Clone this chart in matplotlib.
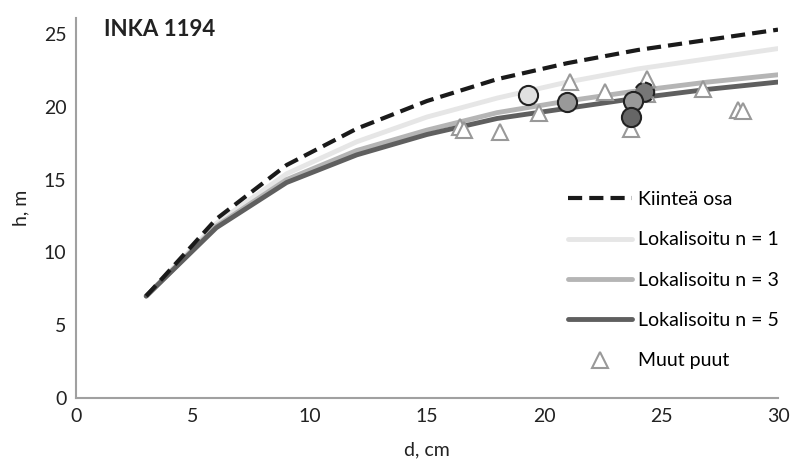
import numpy as np
import matplotlib.pyplot as plt

plt.rcParams['font.family'] = ['Lato', 'DejaVu Sans']

# model curves (d, cm -> h, m)
d_curve = [3, 6, 9, 12, 15, 18, 21, 24, 27, 30]
h_fixed = [7.0, 12.3, 16.0, 18.5, 20.4, 21.9, 23.0, 23.9, 24.6, 25.3]
h_loc1 = [7.0, 12.0, 15.4, 17.6, 19.3, 20.6, 21.7, 22.6, 23.3, 24.0]
h_loc3 = [7.0, 11.8, 15.0, 17.0, 18.4, 19.6, 20.4, 21.1, 21.7, 22.2]
h_loc5 = [7.0, 11.7, 14.8, 16.7, 18.1, 19.2, 19.9, 20.6, 21.2, 21.7]

# other trees
d_other = [16.4, 16.6, 18.1, 19.8, 21.1, 22.6, 23.7, 24.4, 24.4, 26.8, 28.3, 28.5]
h_other = [18.6, 18.4, 18.3, 19.6, 21.7, 21.0, 18.5, 21.9, 20.9, 21.2, 19.8, 19.7]

# sample trees used for localisation
d_samp = [24.3, 19.3, 21.0, 23.8, 23.7]
h_samp = [21.0, 20.8, 20.3, 20.4, 19.3]
c_samp = ['#777777', '#e0e0e0', '#999999', '#999999', '#666666']
ls_samp = ['--', '-', '-', '-', '-']

fig = plt.figure(figsize=(7.91, 4.65), dpi=100)
ax = fig.add_axes([76 / 791, 1 - 398 / 465, 702 / 791, 380 / 465])

ax.plot(d_curve, h_loc1, color='#e6e6e6', lw=3.5, label='Lokalisoitu n = 1', zorder=2,
        solid_capstyle='round')
ax.plot(d_curve, h_loc3, color='#b5b5b5', lw=3.5, label='Lokalisoitu n = 3', zorder=2,
        solid_capstyle='round')
ax.plot(d_curve, h_loc5, color='#5f5f5f', lw=3.5, label='Lokalisoitu n = 5', zorder=2,
        solid_capstyle='round')
ax.plot(d_curve, h_fixed, color='#1a1a1a', lw=3, ls=(0, (3.4, 1.7)), label='Kiinteä osa',
        zorder=3)
ax.plot(d_other, h_other, ls='none', marker='^', ms=11, mfc='white', mec='#999999',
        mew=1.5, label='Muut puut', zorder=4)

for d, h, c, ls in zip(d_samp, h_samp, c_samp, ls_samp):
    ax.scatter(d, h, s=190, color=c, edgecolors='#222222', linewidths=1.5,
               linestyle=ls, zorder=5)

ax.set_xlim(0, 30)
ax.set_ylim(0, 26.1)
ax.set_xticks(range(0, 31, 5))
ax.set_yticks(range(0, 26, 5))
ax.tick_params(length=0, labelsize=14, colors='#222222', pad=7)
for s in ['top', 'right']:
    ax.spines[s].set_visible(False)
for s in ['left', 'bottom']:
    ax.spines[s].set_color('#a0a0a0')
    ax.spines[s].set_linewidth(1.5)

ax.set_xlabel('d, cm', fontsize=14, color='#222222', labelpad=12)
ax.set_ylabel('h, m', fontsize=14, color='#222222', labelpad=10)
ax.text(0.04, 0.97, 'INKA 1194', transform=ax.transAxes, fontsize=16,
        fontweight='bold', color='#222222', va='center')

handles, labels = ax.get_legend_handles_labels()
order = [3, 0, 1, 2, 4]
ax.legend([handles[i] for i in order], [labels[i] for i in order],
          loc='lower right', bbox_to_anchor=(1.012, 0.055), frameon=False,
          fontsize=14, handlelength=3.3, handletextpad=0.3, labelspacing=1.2,
          borderaxespad=0)

fig.savefig('out.png', dpi=100)
